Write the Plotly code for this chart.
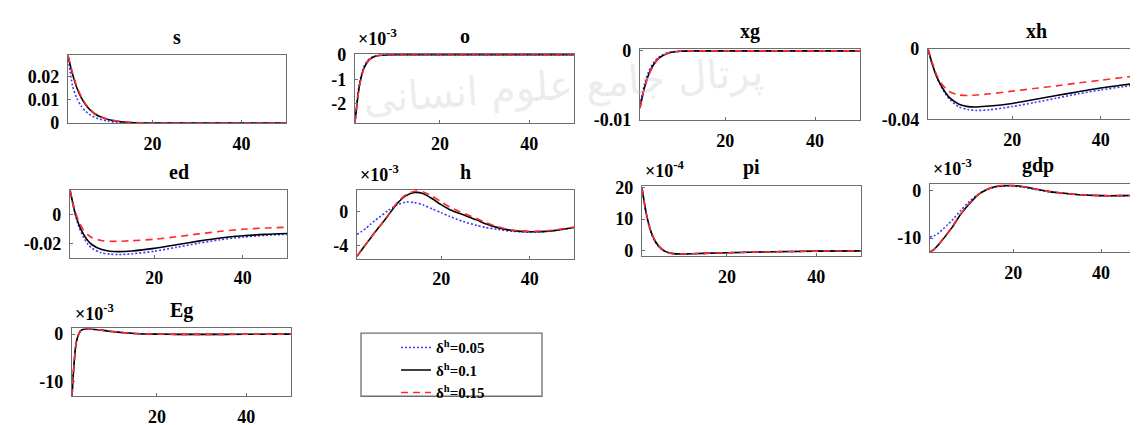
import plotly.graph_objects as go

W, H = 1138, 425

# ── Data (panels with ×10^k are stored in those units) ──

LABELS = ["δ<sup>h</sup>=0.05", "δ<sup>h</sup>=0.1", "δ<sup>h</sup>=0.15"]

T_FAST = [1, 2, 3, 4, 5, 6, 7, 8, 10, 12, 15, 20, 30, 40, 50]
T_HUMP = [1, 2, 3, 4, 5, 6, 8, 10, 12, 15, 20, 25, 30, 35, 40, 45, 50]
T_WAVE = [1, 2, 3, 4, 5, 6, 8, 10, 12, 14, 16, 18, 20, 22, 25, 28, 30, 33, 36, 40, 45, 50]
T_GDP = [1, 2, 3, 4, 5, 6, 8, 10, 12, 14, 16, 18, 20, 22, 25, 28, 30, 35, 40, 45, 50]
T_EG = [1, 2, 3, 4, 5, 6, 8, 10, 12, 15, 20, 25, 30, 40, 50]

S_005 = [0.029, 0.0162, 0.0106, 0.0072, 0.005, 0.0035, 0.0025, 0.0017, 0.0008, 0.0003, 0.0001, 0, 0, 0, 0]
S_010 = [0.029, 0.0212, 0.0151, 0.0108, 0.0078, 0.0056, 0.004, 0.0029, 0.0015, 0.0008, 0.0002, 0, 0, 0, 0]
S_015 = [0.029, 0.0217, 0.0156, 0.0113, 0.0081, 0.0059, 0.0042, 0.0031, 0.0016, 0.0009, 0.0003, 0, 0, 0, 0]

O_005 = [-2.75, -1.15, -0.48, -0.2, -0.08, -0.03, -0.015, -0.008, 0, 0, 0, 0, 0, 0, 0]
O_010 = [-2.75, -1.25, -0.55, -0.24, -0.1, -0.04, -0.02, -0.01, 0, 0, 0, 0, 0, 0, 0]
O_015 = [-2.75, -1.27, -0.56, -0.25, -0.1, -0.04, -0.02, -0.01, 0, 0, 0, 0, 0, 0, 0]

XG_005 = [-0.0078, -0.0048, -0.0029, -0.0017, -0.001, -0.0006, -0.0003, -0.00015, -0.00004, 0, 0, 0, 0, 0, 0]
XG_010 = [-0.0082, -0.0053, -0.0033, -0.002, -0.0012, -0.0007, -0.0004, -0.0002, -0.00005, 0, 0, 0, 0, 0, 0]
XG_015 = [-0.0083, -0.0054, -0.0034, -0.0021, -0.0012, -0.0007, -0.0004, -0.0002, -0.00005, 0, 0, 0, 0, 0, 0]

XH_005 = [0, -0.009, -0.016, -0.0215, -0.0258, -0.029, -0.033, -0.0345, -0.035, -0.0346, -0.0328, -0.0305, -0.028, -0.0255, -0.0233, -0.0215, -0.02]
XH_010 = [0, -0.009, -0.016, -0.021, -0.025, -0.028, -0.0315, -0.0328, -0.033, -0.0325, -0.031, -0.0288, -0.0265, -0.0243, -0.0222, -0.0205, -0.019]
XH_015 = [0, -0.008, -0.015, -0.0195, -0.0225, -0.0245, -0.0262, -0.0265, -0.0262, -0.0255, -0.024, -0.0225, -0.021, -0.0193, -0.0178, -0.0162, -0.0148]

ED_005 = [0.017, 0.002, -0.0085, -0.0155, -0.0205, -0.0235, -0.0265, -0.0275, -0.0278, -0.0273, -0.0255, -0.0228, -0.02, -0.0175, -0.0157, -0.0145, -0.0138]
ED_010 = [0.017, 0.003, -0.007, -0.0135, -0.018, -0.021, -0.0242, -0.0255, -0.0258, -0.0253, -0.0235, -0.021, -0.0185, -0.0163, -0.0148, -0.0138, -0.0132]
ED_015 = [0.017, 0.004, -0.005, -0.0105, -0.014, -0.0162, -0.018, -0.0186, -0.0186, -0.0182, -0.0172, -0.0155, -0.0135, -0.0117, -0.0103, -0.0094, -0.0089]

H_005 = [-2.7, -2.4, -2.0, -1.55, -1.1, -0.7, 0.1, 0.75, 1.1, 1.05, 0.75, 0.3, -0.15, -0.6, -1.2, -1.65, -1.9, -2.15, -2.35, -2.45, -2.3, -1.9]
H_010 = [-5.3, -4.6, -3.9, -3.2, -2.5, -1.85, -0.5, 0.9, 1.85, 2.25, 2.1, 1.5, 0.8, 0.2, -0.4, -1.0, -1.45, -1.95, -2.25, -2.4, -2.3, -1.9]
H_015 = [-5.3, -4.6, -3.9, -3.2, -2.5, -1.85, -0.45, 1.0, 1.95, 2.4, 2.3, 1.8, 1.15, 0.5, -0.2, -0.85, -1.3, -1.85, -2.2, -2.35, -2.25, -1.85]

PI_005 = [20, 11.0, 5.6, 2.5, 0.7, -0.3, -0.8, -1.1, -1.2, -1.15, -1.0, -0.8, -0.5, -0.3, -0.2]
PI_010 = [20, 11.5, 6.0, 2.8, 0.9, -0.2, -0.8, -1.1, -1.2, -1.15, -1.0, -0.8, -0.5, -0.3, -0.2]
PI_015 = [20, 11.6, 6.1, 2.9, 1.0, -0.2, -0.8, -1.1, -1.2, -1.15, -1.0, -0.8, -0.5, -0.3, -0.2]

GDP_005 = [-9.8, -9.5, -8.9, -8.1, -7.2, -6.3, -4.2, -2.3, -0.8, 0.2, 0.7, 0.9, 0.9, 0.7, 0.2, -0.3, -0.5, -0.9, -1.1, -1.1, -1.05]
GDP_010 = [-12.9, -12.3, -11.3, -10.2, -9.0, -7.8, -5.0, -2.8, -0.9, 0.2, 0.8, 1.0, 1.0, 0.8, 0.3, -0.2, -0.45, -0.9, -1.1, -1.1, -1.05]
GDP_015 = [-12.9, -12.3, -11.3, -10.1, -8.9, -7.7, -4.9, -2.7, -0.85, 0.25, 0.85, 1.05, 1.0, 0.8, 0.3, -0.2, -0.45, -0.9, -1.1, -1.1, -1.05]

EG_005 = [-13, -1.6, 0.8, 1.1, 1.1, 1.0, 0.8, 0.55, 0.35, 0.15, 0.0, -0.05, -0.05, -0.02, 0]
EG_010 = [-13, -1.5, 0.8, 1.1, 1.1, 1.0, 0.8, 0.55, 0.35, 0.15, 0.0, -0.05, -0.05, -0.02, 0]
EG_015 = [-13, -1.5, 0.8, 1.1, 1.1, 1.0, 0.8, 0.55, 0.35, 0.15, 0.0, -0.05, -0.05, -0.02, 0]

# name, time grid, series, y range, y ticks, y tick text, exponent label
PANELS = [
    ("s",   T_FAST, (S_005, S_010, S_015),   [0, 0.0292],      [0, 0.01, 0.02], ["0", "0.01", "0.02"], None),
    ("o",   T_FAST, (O_005, O_010, O_015),   [-2.78, 0.02],    [-2, -1, 0], ["-2", "-1", "0"], "-3"),
    ("xg",  T_FAST, (XG_005, XG_010, XG_015), [-0.01, 0.0002], [-0.01, 0], ["-0.01", "0"], None),
    ("xh",  T_HUMP, (XH_005, XH_010, XH_015), [-0.04, 0.0003], [-0.04, 0], ["-0.04", "0"], None),
    ("ed",  T_HUMP, (ED_005, ED_010, ED_015), [-0.030, 0.017], [-0.02, 0], ["-0.02", "0"], None),
    ("h",   T_WAVE, (H_005, H_010, H_015),   [-5.6, 2.55],     [-4, 0], ["-4", "0"], "-3"),
    ("pi",  T_FAST, (PI_005, PI_010, PI_015), [-1.8, 20.6],    [0, 10, 20], ["0", "10", "20"], "-4"),
    ("gdp", T_GDP,  (GDP_005, GDP_010, GDP_015), [-12.9, 1.3], [-10, 0], ["-10", "0"], "-3"),
    ("Eg",  T_EG,   (EG_005, EG_010, EG_015), [-13, 1.2],      [-10, 0], ["-10", "0"], "-3"),
]

# axes boxes in pixels: left, right, top, bottom
BOXES = {
    "s": (60, 278, 40, 111), "o": (347, 566, 39, 111),
    "xg": (632, 852, 34, 108), "xh": (920, 1137, 33, 107),
    "ed": (62, 279, 181, 252), "h": (349, 566, 181, 253),
    "pi": (634, 853, 177, 250), "gdp": (922, 1137, 175, 246),
    "Eg": (64, 283, 326, 397),
}

STYLES = [
    dict(color="#3a3aff", width=1.6, dash="2px,2px"),
    dict(color="#000000", width=1.6),
    dict(color="#ff2a2a", width=1.6, dash="7px,5px"),
]

FONT = dict(family="Liberation Serif", weight="bold", color="black")
AXIS_COLOR = "#6e6e6e"

fig = go.Figure()

for i, (name, t, series, yr, yt, ytt, expo) in enumerate(PANELS, start=1):
    sfx = "" if i == 1 else str(i)
    l, r, top, bot = BOXES[name]
    for vals, lab, st in zip(series, LABELS, STYLES):
        fig.add_trace(go.Scatter(
            x=t, y=vals, xaxis="x" + sfx, yaxis="y" + sfx,
            mode="lines", name=lab, legendgroup=lab, showlegend=(i == 1),
            line=dict(shape="spline", smoothing=0.7, **st),
        ))
    common = dict(showgrid=False, zeroline=False, showline=True, mirror=True,
                  linecolor=AXIS_COLOR, linewidth=1.3, ticks="inside", ticklen=3,
                  tickcolor=AXIS_COLOR, tickfont=dict(size=18, **FONT))
    fig.layout["xaxis" + sfx] = dict(domain=[l / W, r / W], anchor="y" + sfx,
                                     range=[1, 50], tickvals=[20, 40],
                                     ticklabelstandoff=4, **common)
    fig.layout["yaxis" + sfx] = dict(domain=[1 - bot / H, 1 - top / H], anchor="x" + sfx,
                                     range=yr, tickvals=yt, ticktext=ytt,
                                     ticklabelstandoff=4, **common)
    fig.add_annotation(x=(l + r) / 2 / W, y=1 - (top - 5) / H, xref="paper", yref="paper",
                       text=name, showarrow=False, xanchor="center", yanchor="bottom",
                       font=dict(size=20, **FONT))
    if expo:
        fig.add_annotation(x=(l + 1) / W, y=1 - (top - 3) / H, xref="paper", yref="paper",
                           text=f"×10<sup>{expo}</sup>", showarrow=False,
                           xanchor="left", yanchor="bottom", font=dict(size=18, **FONT))

# legend box
fig.add_shape(type="rect", xref="paper", yref="paper",
              x0=353 / W, x1=534 / W, y0=1 - 397 / H, y1=1 - 331 / H,
              line=dict(color=AXIS_COLOR, width=1.3), fillcolor="white", layer="below")

# faint watermark
fig.add_annotation(x=555 / W, y=1 - 30 / H, xref="paper", yref="paper",
                   text="پرتال جامع علوم انسانی", showarrow=False, textangle=-4,
                   font=dict(family="DejaVu Sans", size=40, color="rgba(200,200,200,0.35)"))

fig.update_layout(
    width=W, height=H,
    margin=dict(l=0, r=0, t=0, b=0),
    paper_bgcolor="white", plot_bgcolor="white",
    showlegend=True,
    legend=dict(x=388 / W, y=1 - 329 / H, xanchor="left", yanchor="top",
                bgcolor="rgba(0,0,0,0)", borderwidth=0, tracegroupgap=0,
                font=dict(size=15, **FONT), itemwidth=30),
)

fig.write_html("out.html")
